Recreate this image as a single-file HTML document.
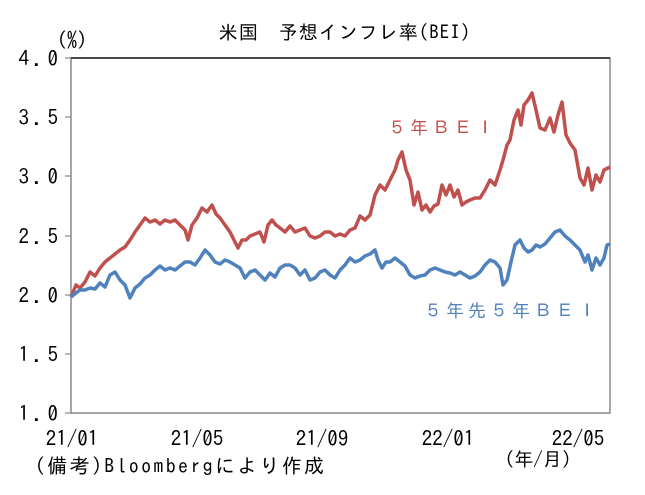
<!DOCTYPE html>
<html><head><meta charset="utf-8"><style>
body{margin:0;background:#fff}
svg{display:block}
text{font-family:"IPAGothic","Noto Sans CJK JP",sans-serif}
</style></head><body>
<svg width="645" height="495" viewBox="0 0 645 495" xmlns="http://www.w3.org/2000/svg">
<rect width="645" height="495" fill="#fff"/>
<text x="345" y="39" font-size="19" text-anchor="middle" letter-spacing="1">米国　予想インフレ率(BEI)</text>
<text x="57" y="47" font-size="20">(%)</text>
<rect x="71" y="58" width="539" height="355" fill="none" stroke="#888" stroke-width="1.5"/>
<line x1="71" y1="58" x2="610" y2="58" stroke="#000" stroke-width="1.2"/>
<g stroke="#888" stroke-width="1.2">
<line x1="65" y1="58" x2="71" y2="58"/><line x1="65" y1="117" x2="71" y2="117"/><line x1="65" y1="176" x2="71" y2="176"/><line x1="65" y1="236" x2="71" y2="236"/><line x1="65" y1="295" x2="71" y2="295"/><line x1="65" y1="354" x2="71" y2="354"/><line x1="65" y1="413" x2="71" y2="413"/>
</g>
<g font-size="21" text-anchor="end" letter-spacing="4">
<text x="62" y="66">4.0</text><text x="62" y="125">3.5</text><text x="62" y="184">3.0</text><text x="62" y="244">2.5</text><text x="62" y="303">2.0</text><text x="62" y="362">1.5</text><text x="62" y="421">1.0</text>
</g>
<g font-size="21" text-anchor="middle">
<text x="72" y="446">21/01</text><text x="197" y="446">21/05</text><text x="322" y="446">21/09</text><text x="448" y="446">22/01</text><text x="578" y="446">22/05</text>
</g>
<text x="538" y="466" font-size="19" text-anchor="middle">(年/月)</text>
<text x="35" y="473" font-size="20" letter-spacing="2.3">(備考)Bloombergにより作成</text>
<polyline fill="none" stroke="#C0504D" stroke-width="3.5" stroke-linejoin="round" points="71,297 76,285 80,288 85,282 90,272 95,276 100,268 105,262 110,258 115,254 120,250 125,247 130,240 135,232 140,225 145,218 150,222 155,220 160,224 165,220 170,222 175,220 180,225 185,230 188,240 192,225 197,218 202,208 207,212 212,205 216,214 220,218 225,225 230,232 234,240 238,248 242,240 246,240 250,236 255,234 260,232 264,242 268,225 272,220 276,225 280,228 285,232 290,226 295,232 300,230 305,228 310,236 315,238 320,236 325,232 330,232 335,236 340,234 345,236 350,230 355,228 360,216 365,220 370,215 375,195 380,185 385,190 390,180 395,170 398,160 402,152 406,170 410,180 414,205 418,192 422,210 426,205 430,212 434,206 438,204 442,185 446,195 450,185 454,197 458,190 462,205 466,202 470,200 475,198 480,198 485,190 490,180 495,185 500,170 503,160 507,145 510,140 514,120 518,110 521,125 524,105 528,100 532,93 536,110 540,128 545,130 550,118 554,132 558,115 562,102 566,135 570,143 575,150 580,178 584,185 588,168 592,190 596,175 600,182 604,170 610,167"/>
<polyline fill="none" stroke="#4F81BD" stroke-width="3.5" stroke-linejoin="round" points="71,297 76,293 80,290 85,290 90,288 95,289 100,283 105,287 110,275 115,272 120,280 125,285 130,298 135,288 140,284 145,278 150,275 155,270 160,266 165,270 170,268 175,270 180,266 185,262 190,262 195,265 200,258 205,250 210,255 215,262 220,264 225,260 230,262 235,265 240,268 245,278 250,272 255,270 260,275 265,280 270,273 275,277 280,268 285,265 290,265 295,268 300,275 305,270 310,280 315,278 320,272 325,270 330,275 335,278 340,270 345,265 350,258 355,262 360,260 365,256 370,254 375,250 378,260 382,268 386,262 390,262 395,258 400,262 405,266 410,275 415,278 420,276 425,275 430,270 435,268 440,270 445,272 450,273 455,275 460,272 465,275 470,278 475,276 480,272 485,265 490,260 495,262 500,268 503,285 507,280 511,262 515,245 520,240 524,248 528,252 532,250 536,245 540,247 545,244 550,238 555,232 560,230 565,236 570,240 575,245 580,250 585,262 588,255 592,270 596,258 600,265 604,258 607,245 610,244"/>
<text x="388" y="134" font-size="18" fill="#C0504D" letter-spacing="4">５年ＢＥＩ</text>
<text x="424" y="317" font-size="18" fill="#4F81BD" letter-spacing="4">５年先５年ＢＥＩ</text>
</svg>
</body></html>
